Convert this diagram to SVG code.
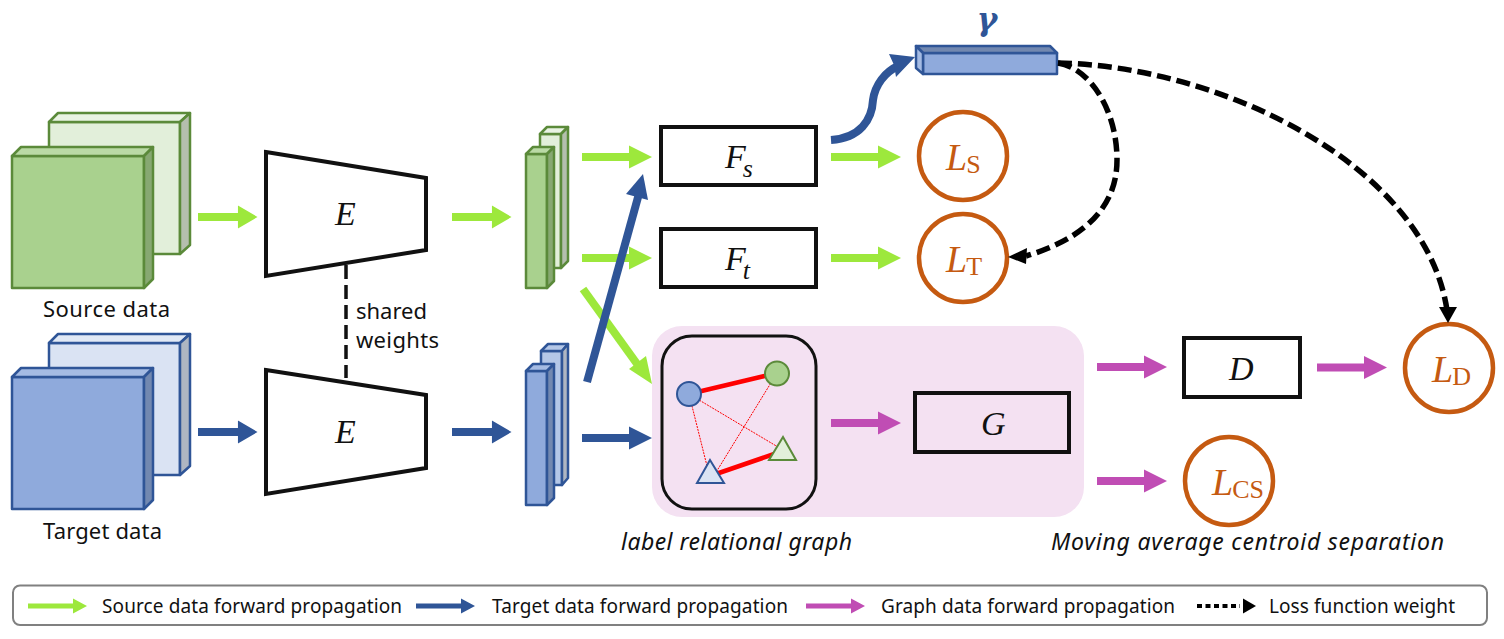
<svg xmlns="http://www.w3.org/2000/svg" width="1504" height="639" viewBox="0 0 1504 639">
<defs>
<style>
.gf{fill:#A9D18E;stroke:#5B8A3A;stroke-width:2.5;stroke-linejoin:round}
.gt{fill:#BADAA5;stroke:#5B8A3A;stroke-width:2.5;stroke-linejoin:round}
.gs{fill:#87A872;stroke:#5B8A3A;stroke-width:2.5;stroke-linejoin:round}
.lf{fill:#E2EFDA;stroke:#5B8A3A;stroke-width:2.5;stroke-linejoin:round}
.lt{fill:#E9F3E3;stroke:#5B8A3A;stroke-width:2.5;stroke-linejoin:round}
.ls{fill:#B5BFAE;stroke:#5B8A3A;stroke-width:2.5;stroke-linejoin:round}
.bf{fill:#8FAADC;stroke:#2F5597;stroke-width:2.5;stroke-linejoin:round}
.bt{fill:#A5BBE3;stroke:#2F5597;stroke-width:2.5;stroke-linejoin:round}
.bs{fill:#7288B0;stroke:#2F5597;stroke-width:2.5;stroke-linejoin:round}
.cf{fill:#DAE3F3;stroke:#2F5597;stroke-width:2.5;stroke-linejoin:round}
.ct{fill:#E1E9F5;stroke:#2F5597;stroke-width:2.5;stroke-linejoin:round}
.cs{fill:#AEB6C2;stroke:#2F5597;stroke-width:2.5;stroke-linejoin:round}
.df{fill:#B4C7E7;stroke:#2F5597;stroke-width:2.5;stroke-linejoin:round}
.box{fill:none;stroke:#111;stroke-width:4}
.loss{fill:#fff;stroke:#C55A11;stroke-width:4.5}
.lab{font-family:"Noto Sans","Open Sans",sans-serif;font-size:22px;fill:#111}
.it{font-family:"Noto Sans","Open Sans",sans-serif;font-size:23px;font-style:italic;fill:#111}
.leg{font-family:"Noto Sans","Open Sans",sans-serif;font-size:19px;fill:#111}
.m{font-family:"Liberation Serif",serif;font-style:italic;font-size:34px;fill:#111}
.sub{font-size:26px}
.L{font-family:"Liberation Serif",serif;font-style:italic;font-size:38px;fill:#C55A11}
.S{font-family:"Liberation Serif",serif;font-style:normal;font-size:26px;fill:#C55A11}
.dash{fill:none;stroke:#000;stroke-width:5.500;stroke-dasharray:14 6}
</style>
<path id="arr" d="M0 -4H47V-11.5L70 0L47 11.5V4H0Z"/>
<path id="larr" d="M0 -2.500H45V-7.500L59 0L45 7.500V2.500H0Z"/>
</defs>
<g id="panel"><rect x="652" y="326" width="432" height="191" rx="30" fill="#F4E1F2"/></g>
<g id="source-data">
<path class="lf" d="M49 122H180V254H49Z"/><path class="lt" d="M49 122L58 113H190L180 122Z"/><path class="ls" d="M180 122L190 113V245L180 254Z"/>
<path class="gf" d="M12 156H144V288H12Z"/><path class="gt" d="M12 156L21 147H153L144 156Z"/><path class="gs" d="M144 156L153 147V279L144 288Z"/>
<text class="lab" x="43" y="317" textLength="127">Source data</text>
</g>
<g id="target-data">
<path class="cf" d="M49 343H180V475H49Z"/><path class="ct" d="M49 343L58 334H190L180 343Z"/><path class="cs" d="M180 343L190 334V466L180 475Z"/>
<path class="bf" d="M12 377H144V509H12Z"/><path class="bt" d="M12 377L21 368H153L144 377Z"/><path class="bs" d="M144 377L153 368V500L144 509Z"/>
<text class="lab" x="43" y="539" textLength="119">Target data</text>
</g>
<g id="encoder-top"><path class="box" d="M266 152L426 178V250L266 276Z"/><text class="m" x="335" y="225">E</text></g>
<g id="encoder-bottom"><path class="box" d="M266 370L426 395V468L266 494Z"/><text class="m" x="335" y="443">E</text></g>
<g id="shared-label"><text class="lab" x="356" y="319" textLength="71">shared</text><text class="lab" x="356" y="348" textLength="83">weights</text></g>
<g id="feature-source">
<path class="lf" d="M540 134H561V268H540Z"/><path class="lt" d="M540 134L547 127H568L561 134Z"/><path class="ls" d="M561 134L568 127V261L561 268Z"/>
<path class="gf" d="M526 154H547V288H526Z"/><path class="gt" d="M526 154L533 147H554L547 154Z"/><path class="gs" d="M547 154L554 147V281L547 288Z"/>
</g>
<g id="feature-target">
<path class="df" d="M541 351H562V485H541Z"/><path class="df" d="M541 351L548 344H568L562 351Z"/><path class="cs" d="M562 351L568 344V478L562 485Z"/>
<path class="bf" d="M526 371H547V505H526Z"/><path class="bt" d="M526 371L533 364H554L547 371Z"/><path class="bs" d="M547 371L554 364V498L547 505Z"/>
</g>
<g id="Fs"><rect class="box" x="661" y="127" width="155" height="58"/><text class="m" x="725" y="168">F<tspan class="sub" dx="-3" dy="9">s</tspan></text></g>
<g id="Ft"><rect class="box" x="661" y="229" width="155" height="58"/><text class="m" x="725" y="270">F<tspan class="sub" dx="-3" dy="9">t</tspan></text></g>
<g id="graph-box">
<rect x="662" y="336" width="154" height="173" rx="30" fill="none" stroke="#111" stroke-width="3"/>
<g stroke="#FF0000" fill="none">
<path d="M689 394L777 373M716 474L780 452" stroke-width="4.500"/>
<path d="M689 394L708 470M777 373L715 474M689 394L783 450" stroke-width="1" stroke-dasharray="2 1"/>
</g>
<circle cx="689" cy="394" r="12" fill="#8FAADC" stroke="#2F5597" stroke-width="2"/>
<circle cx="777" cy="373.500" r="12" fill="#A9D18E" stroke="#5B8A3A" stroke-width="2"/>
<path d="M710 460L724 483H697Z" fill="#DAE3F3" stroke="#2F5597" stroke-width="2"/>
<path d="M783 437L796 460H769Z" fill="#E2EFDA" stroke="#5B8A3A" stroke-width="2"/>
</g>
<g id="G"><rect class="box" x="915" y="393" width="154" height="59"/><text class="m" x="981" y="435">G</text></g>
<g id="D"><rect class="box" x="1184" y="338" width="116" height="59"/><text class="m" x="1229" y="380">D</text></g>
<g id="gamma">
<path class="bf" d="M923 53H1057V74H923Z"/><path class="bs" d="M916 46H1050L1057 53H923Z"/><path class="bt" d="M916 46L923 53V74L916 68Z"/>
<text x="987" y="30" font-family="DejaVu Serif,serif" font-style="italic" font-weight="bold" font-size="31" fill="#2F5597" text-anchor="middle">γ</text>
</g>
<g id="loss-s"><circle class="loss" cx="963" cy="156" r="44"/><text class="L" x="946" y="170">L<tspan class="S" dx="-1" dy="3">S</tspan></text></g>
<g id="loss-t"><circle class="loss" cx="963" cy="258" r="44"/><text class="L" x="946" y="272">L<tspan class="S" dx="-1" dy="3">T</tspan></text></g>
<g id="loss-d"><circle class="loss" cx="1449" cy="368" r="44"/><text class="L" x="1432" y="382">L<tspan class="S" dx="-1" dy="3">D</tspan></text></g>
<g id="loss-cs"><circle class="loss" cx="1229" cy="481" r="44"/><text class="L" x="1212" y="495">L<tspan class="S" dx="-1" dy="3">CS</tspan></text></g>
<g id="connectors">
<use href="#arr" transform="translate(198 217) scale(.85 1)" fill="#9DE83C"/>
<use href="#arr" transform="translate(452 217) scale(.85 1)" fill="#9DE83C"/>
<use href="#arr" transform="translate(582 157)" fill="#9DE83C"/>
<use href="#arr" transform="translate(582 258)" fill="#9DE83C"/>
<use href="#arr" transform="translate(831 157)" fill="#9DE83C"/>
<use href="#arr" transform="translate(831 258)" fill="#9DE83C"/>
<path d="M583 289L640 368" stroke="#9DE83C" stroke-width="8" fill="none"/>
<path d="M652 384L629 369L646 356Z" fill="#9DE83C"/>
<use href="#arr" transform="translate(198 432) scale(.85 1)" fill="#2F5597"/>
<use href="#arr" transform="translate(452 432) scale(.85 1)" fill="#2F5597"/>
<use href="#arr" transform="translate(582 438)" fill="#2F5597"/>
<path d="M587 382L640 190" stroke="#2F5597" stroke-width="8" fill="none"/>
<path d="M643 174L648 200L626 194Z" fill="#2F5597"/>
<path d="M831 140C860 138 872 120 873 100C875 85 885 72 898 66" stroke="#2F5597" stroke-width="8" fill="none"/>
<path d="M915 57L889 54L894 65L896 77Z" fill="#2F5597"/>
<use href="#arr" transform="translate(831 423)" fill="#C04DB4"/>
<use href="#arr" transform="translate(1097 367)" fill="#C04DB4"/>
<use href="#arr" transform="translate(1097 481)" fill="#C04DB4"/>
<use href="#arr" transform="translate(1317 367.500)" fill="#C04DB4"/>
<path d="M346 265V378" fill="none" stroke="#111" stroke-width="3.500" stroke-dasharray="14 6"/>
<path class="dash" d="M1058 63C1090 68 1117 110 1117 160C1117 210 1080 240 1026 256"/>
<path d="M1008 257L1027 248L1026 264Z" fill="#000"/>
<path class="dash" d="M1058 63C1220 66 1425 165 1447 310"/>
<path d="M1448 323L1439 307H1457Z" fill="#000"/>
</g>
<g id="captions"><text class="it" x="621" y="550" textLength="231">label relational graph</text><text class="it" x="1051" y="550" textLength="393">Moving average centroid separation</text></g>
<g id="legend">
<rect x="13" y="585.500" width="1474" height="39.500" rx="7" fill="#fff" stroke="#808080" stroke-width="2"/>
<use href="#larr" transform="translate(28 606)" fill="#9DE83C"/><text class="leg" x="102" y="613" textLength="300">Source data forward propagation</text>
<use href="#larr" transform="translate(416 606)" fill="#2F5597"/><text class="leg" x="492" y="613" textLength="296">Target data forward propagation</text>
<use href="#larr" transform="translate(806 606)" fill="#C04DB4"/><text class="leg" x="881" y="613" textLength="294">Graph data forward propagation</text>
<path d="M1197 606H1240" stroke="#000" stroke-width="4" stroke-dasharray="5 3.500" fill="none"/><path d="M1256 606L1243 598.500V613.500Z" fill="#000"/><text class="leg" x="1269" y="613" textLength="186">Loss function weight</text>
</g>
</svg>
